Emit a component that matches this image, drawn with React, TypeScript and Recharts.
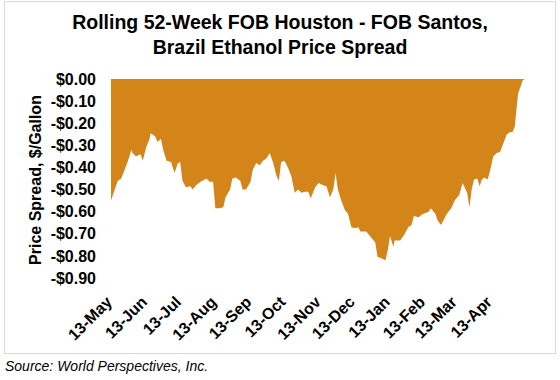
import { Area, AreaChart, XAxis, YAxis } from 'recharts';

// days since 13-May
const days = [
  0, 4, 6, 9, 12, 15, 18, 19, 22, 26, 28, 31, 34, 35, 39, 41, 44, 46, 49, 53, 56, 59, 61, 63, 66, 70, 72, 75, 79, 84,
  87, 90, 92, 96, 99, 101, 105, 107, 110, 114, 116, 119, 123, 125, 128, 131, 134, 137, 140, 143, 146, 148, 150, 153,
  156, 159, 162, 165, 168, 171, 174, 176, 180, 183, 187, 190, 193, 196, 198, 200, 203, 206, 209, 212, 215, 218, 220,
  225, 229, 233, 235, 238, 242, 244, 246, 249, 250, 255, 259, 262, 265, 267, 271, 275, 280, 282, 286, 288, 291, 294,
  296, 300, 303, 307, 310, 314, 316, 318, 320, 323, 325, 327, 329, 332, 334, 337, 340, 343, 346, 349, 352, 354, 356,
  358, 359, 362, 363, 365,
];

const spread = [
  -0.55, -0.49, -0.46, -0.45, -0.41, -0.37, -0.32, -0.335, -0.35, -0.34, -0.37, -0.31, -0.27, -0.245, -0.26, -0.285,
  -0.27, -0.32, -0.37, -0.375, -0.425, -0.38, -0.375, -0.46, -0.49, -0.485, -0.5, -0.48, -0.465, -0.45, -0.465, -0.465,
  -0.585, -0.585, -0.58, -0.535, -0.5, -0.45, -0.445, -0.46, -0.5, -0.5, -0.465, -0.41, -0.38, -0.39, -0.37, -0.36,
  -0.335, -0.38, -0.44, -0.46, -0.375, -0.37, -0.4, -0.44, -0.515, -0.5, -0.515, -0.51, -0.51, -0.54, -0.49, -0.47,
  -0.48, -0.485, -0.535, -0.5, -0.425, -0.5, -0.55, -0.59, -0.61, -0.67, -0.675, -0.67, -0.69, -0.69, -0.715, -0.74,
  -0.805, -0.81, -0.82, -0.775, -0.71, -0.76, -0.73, -0.73, -0.7, -0.67, -0.66, -0.62, -0.625, -0.61, -0.6, -0.585,
  -0.61, -0.64, -0.66, -0.63, -0.61, -0.585, -0.55, -0.525, -0.47, -0.515, -0.58, -0.5, -0.455, -0.45, -0.485, -0.455,
  -0.445, -0.455, -0.42, -0.35, -0.335, -0.33, -0.29, -0.25, -0.24, -0.24, -0.215, -0.11, -0.065, -0.02, -0.005, 0,
];

const tickDays = [0, 31, 61, 92, 123, 153, 184, 214, 245, 276, 304, 335];
const tickLabels = ['13-May', '13-Jun', '13-Jul', '13-Aug', '13-Sep', '13-Oct', '13-Nov', '13-Dec', '13-Jan', '13-Feb', '13-Mar', '13-Apr'];
const yTicks = [0, -0.1, -0.2, -0.3, -0.4, -0.5, -0.6, -0.7, -0.8, -0.9];

const data = days.map((day, i) => ({ day, spread: spread[i] }));

const font = '"Liberation Sans", Arial, sans-serif';

const fmtY = (v: number) => (v < 0 ? '-$' : '$') + Math.abs(v).toFixed(2);

function DateTick({ x, y, payload }: any) {
  const label = tickLabels[tickDays.indexOf(payload.value)];
  return (
    <g transform={`translate(${x + 2},${y + 23})`}>
      <text transform="rotate(-45)" textAnchor="end" fontSize={16} fontWeight="bold" fill="#000" fontFamily={font}>
        {label}
      </text>
    </g>
  );
}

export default function App() {
  return (
    <div style={{ position: 'absolute', left: 0, top: 0, width: 560, height: 380, background: '#fff', fontFamily: font }}>
      <div style={{ position: 'absolute', left: 4, top: 1, width: 550, height: 351, border: '1px solid #D9D9D9' }} />
      <div
        style={{
          position: 'absolute', left: 0, top: 9.5, width: 560, textAlign: 'center',
          fontSize: 19.5, lineHeight: '25px', fontWeight: 'bold', color: '#000',
        }}
      >
        Rolling 52-Week FOB Houston - FOB Santos,
        <br />
        Brazil Ethanol Price Spread
      </div>
      <div
        style={{
          position: 'absolute', left: 35.5, top: 179.5, transform: 'translate(-50%, -50%) rotate(-90deg)',
          whiteSpace: 'nowrap', fontSize: 16, fontWeight: 'bold', color: '#000',
        }}
      >
        Price Spread, $/Gallon
      </div>
      <div style={{ position: 'absolute', left: 0, top: 0 }}>
        <AreaChart width={560} height={355} data={data} margin={{ top: 79, right: 35, bottom: 37, left: 0 }}>
          <XAxis
            dataKey="day"
            type="number"
            domain={[0, 365]}
            ticks={tickDays}
            axisLine={false}
            tickLine={false}
            tickSize={0}
            height={40}
            tick={<DateTick />}
            interval={0}
          />
          <XAxis
            xAxisId="top"
            dataKey="day"
            type="number"
            orientation="top"
            mirror
            domain={[0, 365]}
            ticks={tickDays}
            height={0}
            tick={false}
            tickSize={4}
            axisLine={{ stroke: '#C8C8C8' }}
            tickLine={{ stroke: '#C8C8C8' }}
          />
          <YAxis
            domain={[-0.9, 0]}
            ticks={yTicks}
            interval={0}
            width={111}
            axisLine={false}
            tickLine={false}
            tickMargin={9}
            tickFormatter={fmtY}
            tick={{ fontSize: 16, fontWeight: 'bold', fill: '#000', fontFamily: font }}
          />
          <Area
            type="linear"
            dataKey="spread"
            baseValue={0}
            stroke="none"
            fill="#D38519"
            fillOpacity={1}
            isAnimationActive={false}
          />
        </AreaChart>
      </div>
      <div style={{ position: 'absolute', left: 5, top: 358, fontSize: 14, fontStyle: 'italic', color: '#000', whiteSpace: 'nowrap' }}>
        Source: World Perspectives, Inc.
      </div>
    </div>
  );
}
